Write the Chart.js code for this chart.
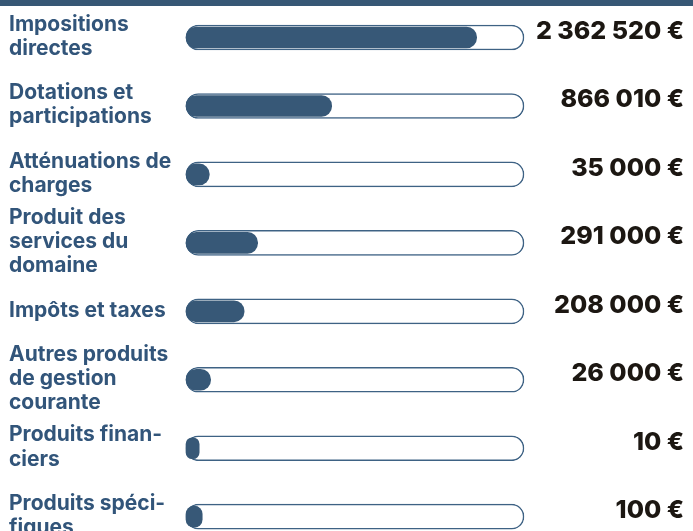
<!DOCTYPE html>
<html>
<head>
<meta charset="utf-8">
<script src="https://cdn.jsdelivr.net/npm/chart.js@4.4.0/dist/chart.umd.min.js"></script>
<style>
  body { margin: 0; background: #fff; }
  #wrap { position: absolute; top: 0; left: 0; width: 693px; height: 531px; }
  #band { position: absolute; top: 0; left: 0; width: 693px; height: 6px; background: #375775; }
</style>
</head>
<body>
<div id="wrap"><canvas id="mycanvas" width="693" height="531"></canvas></div>
<div id="band"></div>
<script>
var categories = [
  ["Impositions", "directes"],
  ["Dotations et", "participations"],
  ["Atténuations de", "charges"],
  ["Produit des", "services du", "domaine"],
  ["Impôts et taxes"],
  ["Autres produits", "de gestion", "courante"],
  ["Produits finan-", "ciers"],
  ["Produits spéci-", "fiques"]
];
var amounts = [2362520, 866010, 35000, 291000, 208000, 26000, 10, 100];
// filled part of each track as drawn (percent)
var fillPct = [86, 43.1, 6.9, 21.2, 17.2, 7.3, 3.9, 4.8];
var trackPct = [100, 100, 100, 100, 100, 100, 100, 100];

function euro(v) {
  return String(v).replace(/\B(?=(\d{3})+(?!\d))/g, '\u00A0') + '\u00A0€';
}

var ctx = document.getElementById('mycanvas').getContext('2d');

new Chart(ctx, {
  type: 'bar',
  data: {
    labels: categories,
    datasets: [
      {
        data: fillPct,
        backgroundColor: '#375877',
        barThickness: 21,
        borderRadius: 11,
        borderSkipped: false,
        grouped: false,
        clip: false,
        order: 0
      },
      {
        data: trackPct,
        backgroundColor: '#ffffff',
        borderColor: '#3e6284',
        borderWidth: 1.5,
        barThickness: 25,
        borderRadius: 13,
        borderSkipped: false,
        grouped: false,
        clip: false,
        order: 1
      }
    ]
  },
  options: {
    indexAxis: 'y',
    responsive: false,
    animation: false,
    layout: { padding: { top: 37.5, bottom: 14.3, left: 9, right: 9 } },
    plugins: {
      legend: { display: false },
      tooltip: { enabled: false }
    },
    scales: {
      x: { min: 0, max: 100, display: false },
      y: {
        offset: false,
        grid: { display: false },
        border: { display: false },
        ticks: {
          autoSkip: false,
          crossAlign: 'far',
          labelOffset: -1,
          color: '#32557a',
          font: { family: 'Inter', weight: '700', size: 21, lineHeight: 1.15 }
        },
        afterFit: function(scale) {
          scale.width = 177;
          scale.paddingTop = 0;
          scale.paddingBottom = 0;
        }
      },
      y2: {
        type: 'category',
        position: 'right',
        labels: amounts.map(euro),
        offset: false,
        grid: { display: false },
        border: { display: false },
        ticks: {
          autoSkip: false,
          crossAlign: 'far',
          labelOffset: -6,
          color: '#1c1712',
          font: { family: 'Inter', weight: '800', size: 25 }
        },
        afterFit: function(scale) {
          scale.width = 160;
          scale.paddingTop = 0;
          scale.paddingBottom = 0;
        }
      }
    }
  }
});
</script>
</body>
</html>
